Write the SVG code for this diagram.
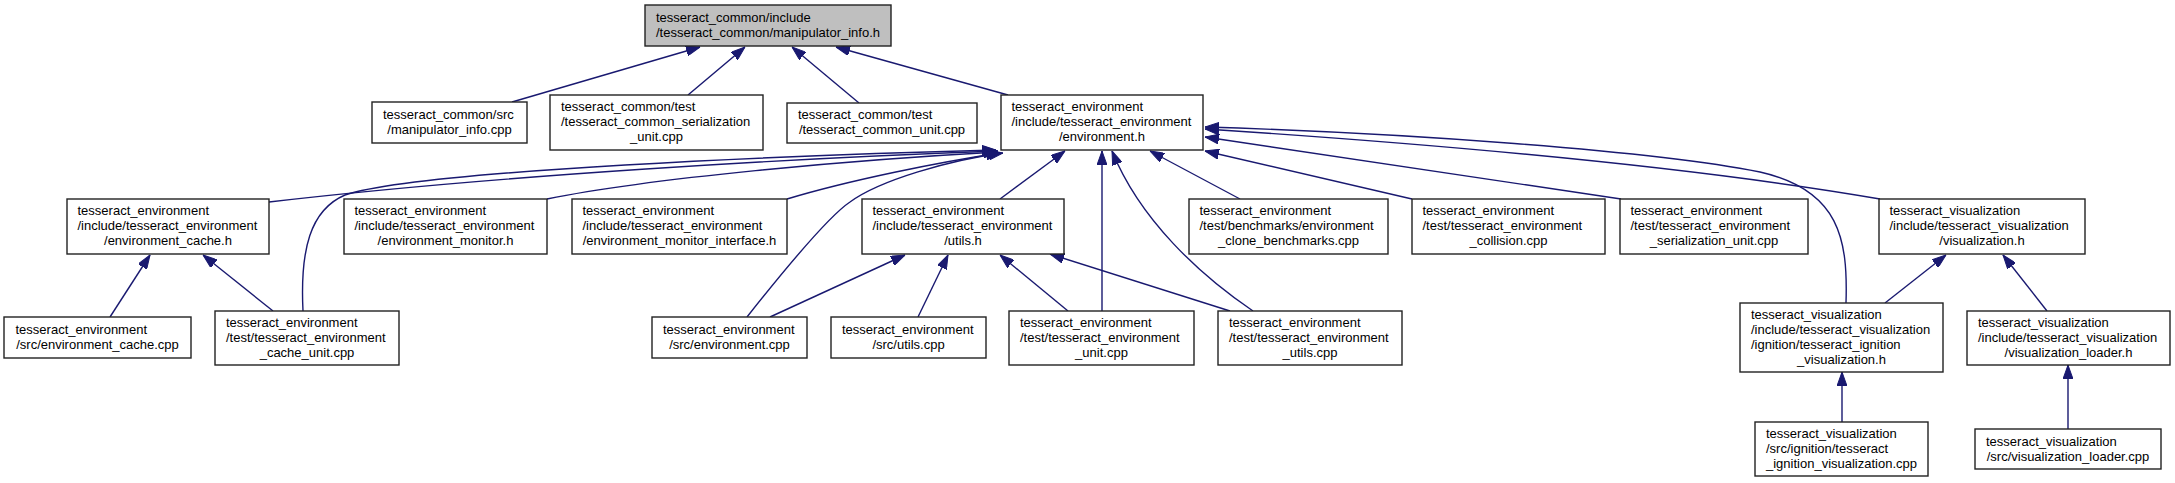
<svg xmlns="http://www.w3.org/2000/svg" width="2175" height="483" viewBox="0 0 2175 483">
<style>
.n rect{fill:#fff;stroke:#222;stroke-width:1.4}
.n.root rect{fill:#bfbfbf}
.n text{font-family:"Liberation Sans",Arial,sans-serif;font-size:13px;fill:#000}
.n text.c{text-anchor:middle}
.e path{fill:none;stroke:#191970;stroke-width:1.4;marker-end:url(#ah)}
</style>
<defs>
<marker id="ah" markerUnits="userSpaceOnUse" markerWidth="14" markerHeight="10" refX="14" refY="5" viewBox="0 0 14 10" orient="auto">
<path d="M0,0 L14,5 L0,10 z" fill="#191970" stroke="#191970" stroke-width="1"/>
</marker>
</defs>
<rect width="2175" height="483" fill="#fff"/>
<g id="edges" class="e">
<path d="M512,102 L700,47"/>
<path d="M688,95 L745,47"/>
<path d="M859,103 L792,47"/>
<path d="M1008,95 L836,47"/>
<path d="M269,202 C500,175 800,158 998,151"/>
<path d="M303,311 C300,250 310,210 345,195 C420,170 800,155 996,150"/>
<path d="M547,199 C650,178 850,160 998,152"/>
<path d="M787,199 C850,180 940,162 1000,153"/>
<path d="M747,317 C800,250 835,212 850,202 C880,180 950,160 1003,153"/>
<path d="M1000,199 L1065,151"/>
<path d="M1102,311 L1102,151"/>
<path d="M1253,311 C1200,275 1140,220 1112,151"/>
<path d="M1240,199 L1150,151"/>
<path d="M1412,199 L1205,151"/>
<path d="M1621,199 L1205,137"/>
<path d="M1880,199 C1700,168 1450,145 1205,129"/>
<path d="M1846,303 C1848,240 1840,190 1760,172 C1650,150 1400,133 1205,127"/>
<path d="M770,317 L905,255"/>
<path d="M918,317 L948,255"/>
<path d="M1068,311 L1000,255"/>
<path d="M1230,311 L1050,254"/>
<path d="M110,317 L150,255"/>
<path d="M273,311 L203,255"/>
<path d="M1885,303 L1946,255"/>
<path d="M2047,311 L2003,255"/>
<path d="M1842,422 L1842,372"/>
<path d="M2068,429 L2068,365"/>
</g>
<g id="node0" class="n root"><rect x="645" y="5" width="246" height="41"/><text x="656" y="22">tesseract_common/include</text><text class="c" x="768" y="37">/tesseract_common/manipulator_info.h</text></g>
<g id="node1" class="n"><rect x="372" y="102" width="155" height="41"/><text x="383" y="118.5">tesseract_common/src</text><text class="c" x="449.5" y="133.5">/manipulator_info.cpp</text></g>
<g id="node2" class="n"><rect x="550" y="95" width="213" height="55"/><text x="561" y="111">tesseract_common/test</text><text x="561" y="126">/tesseract_common_serialization</text><text class="c" x="656.5" y="141">_unit.cpp</text></g>
<g id="node3" class="n"><rect x="787" y="103" width="190" height="40"/><text x="798" y="119">tesseract_common/test</text><text class="c" x="882" y="134">/tesseract_common_unit.cpp</text></g>
<g id="node4" class="n"><rect x="1001" y="95" width="202" height="55"/><text x="1011.5" y="111">tesseract_environment</text><text x="1011.5" y="126">/include/tesseract_environment</text><text class="c" x="1102" y="141">/environment.h</text></g>
<g id="node5" class="n"><rect x="67" y="199" width="202" height="55"/><text x="77.5" y="215">tesseract_environment</text><text x="77.5" y="230">/include/tesseract_environment</text><text class="c" x="168" y="245">/environment_cache.h</text></g>
<g id="node6" class="n"><rect x="344" y="199" width="203" height="55"/><text x="354.5" y="215">tesseract_environment</text><text x="354.5" y="230">/include/tesseract_environment</text><text class="c" x="445.5" y="245">/environment_monitor.h</text></g>
<g id="node7" class="n"><rect x="572" y="199" width="215" height="55"/><text x="582.5" y="215">tesseract_environment</text><text x="582.5" y="230">/include/tesseract_environment</text><text class="c" x="679.5" y="245">/environment_monitor_interface.h</text></g>
<g id="node8" class="n"><rect x="862" y="199" width="202" height="55"/><text x="872.5" y="215">tesseract_environment</text><text x="872.5" y="230">/include/tesseract_environment</text><text class="c" x="963" y="245">/utils.h</text></g>
<g id="node9" class="n"><rect x="1189" y="199" width="199" height="55"/><text x="1199.5" y="215">tesseract_environment</text><text x="1199.5" y="230">/test/benchmarks/environment</text><text class="c" x="1288.5" y="245">_clone_benchmarks.cpp</text></g>
<g id="node10" class="n"><rect x="1412" y="199" width="193" height="55"/><text x="1422.5" y="215">tesseract_environment</text><text x="1422.5" y="230">/test/tesseract_environment</text><text class="c" x="1508.5" y="245">_collision.cpp</text></g>
<g id="node11" class="n"><rect x="1620" y="199" width="188" height="55"/><text x="1630.5" y="215">tesseract_environment</text><text x="1630.5" y="230">/test/tesseract_environment</text><text class="c" x="1714" y="245">_serialization_unit.cpp</text></g>
<g id="node12" class="n"><rect x="1879" y="199" width="206" height="55"/><text x="1889.5" y="215">tesseract_visualization</text><text x="1889.5" y="230">/include/tesseract_visualization</text><text class="c" x="1982" y="245">/visualization.h</text></g>
<g id="node13" class="n"><rect x="4" y="317" width="187" height="41"/><text x="15.5" y="334">tesseract_environment</text><text class="c" x="97.5" y="349">/src/environment_cache.cpp</text></g>
<g id="node14" class="n"><rect x="215" y="311" width="184" height="54"/><text x="226" y="326.5">tesseract_environment</text><text x="226" y="341.5">/test/tesseract_environment</text><text class="c" x="307" y="356.5">_cache_unit.cpp</text></g>
<g id="node15" class="n"><rect x="652" y="317" width="155" height="41"/><text x="663" y="334">tesseract_environment</text><text class="c" x="729.5" y="349">/src/environment.cpp</text></g>
<g id="node16" class="n"><rect x="831" y="317" width="155" height="41"/><text x="842" y="334">tesseract_environment</text><text class="c" x="908.5" y="349">/src/utils.cpp</text></g>
<g id="node17" class="n"><rect x="1009" y="311" width="185" height="54"/><text x="1020" y="326.5">tesseract_environment</text><text x="1020" y="341.5">/test/tesseract_environment</text><text class="c" x="1101.5" y="356.5">_unit.cpp</text></g>
<g id="node18" class="n"><rect x="1218" y="311" width="184" height="54"/><text x="1229" y="326.5">tesseract_environment</text><text x="1229" y="341.5">/test/tesseract_environment</text><text class="c" x="1310" y="356.5">_utils.cpp</text></g>
<g id="node19" class="n"><rect x="1740" y="303" width="203" height="69"/><text x="1751" y="319">tesseract_visualization</text><text x="1751" y="334">/include/tesseract_visualization</text><text x="1751" y="349">/ignition/tesseract_ignition</text><text class="c" x="1841.5" y="364">_visualization.h</text></g>
<g id="node20" class="n"><rect x="1967" y="311" width="203" height="54"/><text x="1978" y="326.5">tesseract_visualization</text><text x="1978" y="341.5">/include/tesseract_visualization</text><text class="c" x="2068.5" y="356.5">/visualization_loader.h</text></g>
<g id="node21" class="n"><rect x="1755" y="422" width="173" height="54"/><text x="1766" y="437.5">tesseract_visualization</text><text x="1766" y="452.5">/src/ignition/tesseract</text><text class="c" x="1841.5" y="467.5">_ignition_visualization.cpp</text></g>
<g id="node22" class="n"><rect x="1975" y="429" width="186" height="40"/><text x="1986" y="445.5">tesseract_visualization</text><text class="c" x="2068" y="460.5">/src/visualization_loader.cpp</text></g>
</svg>
